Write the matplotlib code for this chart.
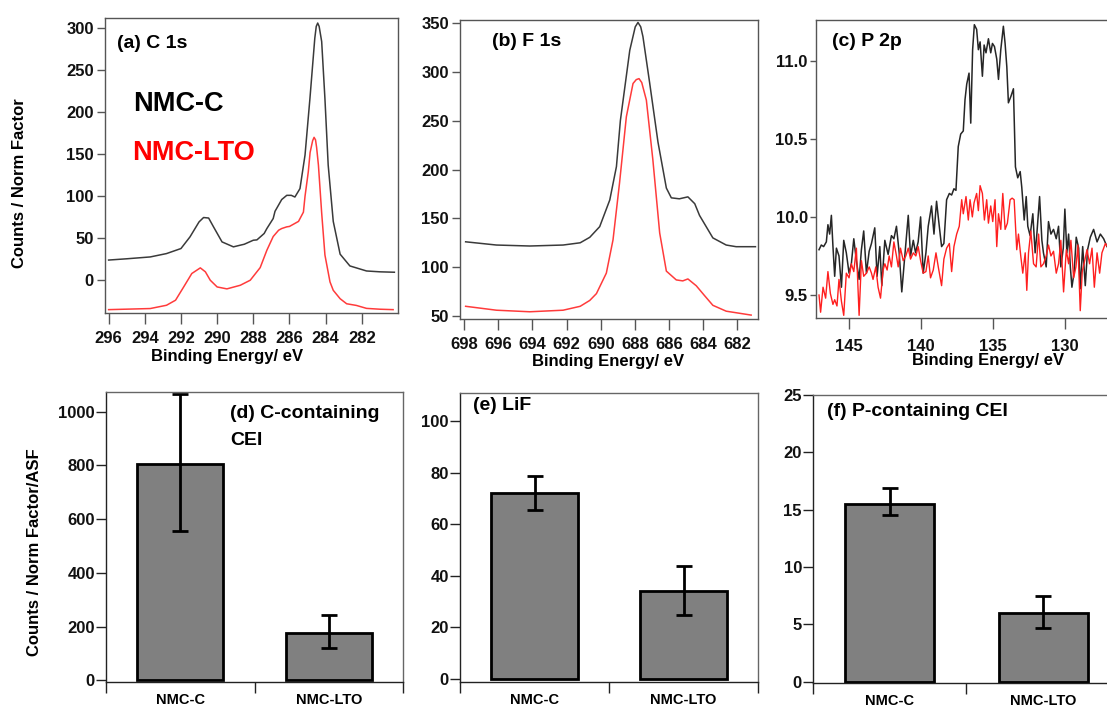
import matplotlib
matplotlib.use("Agg")
import matplotlib.pyplot as plt
import numpy as np

matplotlib.rc('font', family='Liberation Sans', weight='bold')

W, H = 1107, 708

# C 1s spectra (binding energy / eV, counts / norm factor)
c1s_ev_c = [296.0, 295.0, 293.7, 292.8, 292.0, 291.5, 291.0, 290.75, 290.47, 290.2,
            289.73, 289.1, 288.72, 288.5, 288.0, 287.8, 287.4, 287.25, 286.9, 286.8,
            286.43, 286.15, 285.9, 285.7, 285.42, 285.14, 284.87, 284.6, 284.52, 284.44,
            284.36, 284.22, 284.04, 283.86, 283.58, 283.2, 282.66, 281.74, 281.0, 280.2]
c1s_nmc_c = [24, 25.5, 27.7, 31.7, 37.7, 51.6, 69.4, 74.6, 74, 63.5,
             45.6, 39.7, 41.7, 42.8, 47.6, 48, 55.6, 61.5, 73.4, 82,
             96, 101, 101, 99, 109, 149, 216, 288, 302, 306,
             302, 284, 216, 137, 70, 31, 17, 11, 10, 9.5]
c1s_ev_lto = [296.0, 293.7, 292.8, 292.3, 291.85, 291.4, 290.93, 290.65, 290.38, 290.0,
              289.46, 288.72, 288.17, 287.62, 287.25, 286.9, 286.6, 286.43, 286.15, 286.0,
              285.5, 285.23, 285.14, 284.96, 284.86, 284.72, 284.64, 284.56, 284.5, 284.4,
              284.22, 284.04, 283.76, 283.58, 283.2, 282.84, 282.3, 281.74, 281.0, 280.27]
c1s_nmc_lto = [-35, -33.7, -29.8, -23.8, -8, 8, 14.7, 10, 0, -8,
               -10.3, -6, 0, 15, 35.7, 52, 59.5, 61.5, 63.5, 64,
               70, 81, 100, 129, 152, 166, 170, 167, 158, 137,
               80, 30, -2, -12, -22, -28, -30, -33.5, -34.5, -35]

# F 1s spectra
f1s_ev_c = [697.9, 696.1, 694.15, 692.2, 691.2, 690.64, 690.06, 689.47, 689.08, 688.85,
            688.3, 687.98, 687.82, 687.66, 687.53, 687.14, 686.65, 686.16, 685.87, 685.4,
            684.9, 684.5, 684.22, 683.44, 682.66, 682.08, 680.95]
f1s_nmc_c = [126, 122.7, 121.7, 122.7, 125, 130.6, 141.5, 168.8, 203, 250,
             322, 346, 350.5, 346, 336, 289, 228, 181, 171, 170,
             172, 165, 153, 130, 122.7, 121, 121]
f1s_ev_lto = [697.9, 696.1, 694.15, 692.2, 691.2, 690.64, 690.25, 689.67, 689.28, 688.9,
              688.5, 688.11, 687.92, 687.76, 687.6, 687.33, 686.95, 686.55, 686.16, 685.58,
              685.2, 684.9, 684.41, 683.93, 683.44, 682.66, 681.2]
f1s_nmc_lto = [60, 56, 54.4, 56, 60, 66, 73, 94, 128, 186,
               254, 288, 292, 293, 289, 271, 210, 135, 96, 87,
               86, 88, 81, 71, 61, 55, 51]

# P 2p spectra
p2p_ev_c = [147.09, 146.93, 146.77, 146.58, 146.47, 146.35, 146.23, 146.12, 146.00, 145.88,
            145.70, 145.53, 145.37, 145.19, 145.00, 144.84, 144.67, 144.49, 144.30, 144.14,
            143.98, 143.79, 143.60, 143.44, 143.21, 143.05, 142.86, 142.72, 142.51, 142.28,
            142.05, 141.88, 141.70, 141.51, 141.33, 141.12, 140.88, 140.72, 140.53, 140.37,
            140.19, 140.02, 139.84, 139.65, 139.49, 139.26, 139.09, 138.91, 138.72, 138.56,
            138.40, 138.21, 138.02, 137.86, 137.70, 137.56, 137.40, 137.23, 137.05, 136.93,
            136.81, 136.65, 136.53, 136.40, 136.28, 136.12, 136.00, 135.88, 135.72, 135.60,
            135.47, 135.30, 135.14, 135.02, 134.88, 134.72, 134.60, 134.44, 134.26, 134.14,
            134.02, 133.91, 133.74, 133.56, 133.42, 133.26, 133.09, 132.98, 132.81, 132.67,
            132.56, 132.40, 132.21, 132.05, 131.93, 131.74, 131.58, 131.47, 131.28, 131.12,
            130.95, 130.77, 130.58, 130.42, 130.26, 130.09, 129.98, 129.84, 129.72, 129.60,
            129.49, 129.33, 129.19, 129.02, 128.91, 128.74, 128.56, 128.40, 128.21, 127.98,
            127.74, 127.51, 127.28, 127.05]
p2p_nmc_c = [9.79, 9.82, 9.81, 9.84, 9.95, 9.89, 10.01, 9.81, 9.62, 9.80,
             9.75, 9.55, 9.85, 9.77, 9.64, 9.70, 9.86, 9.72, 9.60, 9.79,
             9.91, 9.64, 9.78, 9.83, 9.93, 9.62, 9.81, 9.56, 9.85, 9.76,
             9.88, 9.86, 9.94, 9.77, 9.52, 9.75, 10.01, 9.75, 9.85, 9.77,
             9.84, 10.00, 9.64, 9.77, 9.94, 10.07, 9.89, 10.10, 9.94, 9.81,
             9.83, 10.11, 10.15, 10.14, 10.18, 10.17, 10.45, 10.53, 10.55, 10.75,
             10.85, 10.92, 10.60, 11.07, 11.23, 11.20, 11.07, 11.12, 10.90, 11.10,
             11.05, 11.14, 11.05, 11.11, 11.09, 11.01, 10.88, 11.07, 11.22, 11.11,
             10.96, 10.73, 10.77, 10.82, 10.32, 10.25, 10.29, 10.19, 9.98, 10.13,
             9.94, 9.88, 10.02, 9.77, 9.89, 10.13, 9.85, 9.77, 9.68, 9.97,
             9.89, 9.92, 9.86, 9.94, 9.68, 9.80, 10.05, 9.77, 9.89, 9.68,
             9.55, 9.65, 9.87, 9.80, 9.54, 9.81, 9.56, 9.79, 9.87, 9.92,
             9.84, 9.89, 9.86, 9.81]
p2p_ev_lto = [147.09, 146.98, 146.81, 146.63, 146.47, 146.30, 146.12, 146.00, 145.84, 145.70,
              145.53, 145.37, 145.19, 145.00, 144.84, 144.67, 144.49, 144.30, 144.14, 143.98,
              143.79, 143.60, 143.44, 143.33, 143.14, 142.98, 142.81, 142.63, 142.51, 142.35,
              142.21, 142.05, 141.88, 141.70, 141.58, 141.42, 141.23, 141.05, 140.88, 140.72,
              140.53, 140.35, 140.19, 140.02, 139.84, 139.65, 139.49, 139.33, 139.14, 138.95,
              138.79, 138.56, 138.40, 138.21, 138.02, 137.86, 137.70, 137.51, 137.33, 137.16,
              137.05, 136.86, 136.70, 136.58, 136.42, 136.30, 136.12, 136.00, 135.88, 135.72,
              135.58, 135.42, 135.30, 135.14, 135.00, 134.84, 134.72, 134.60, 134.44, 134.30,
              134.14, 133.98, 133.79, 133.65, 133.51, 133.33, 133.21, 133.05, 132.91, 132.74,
              132.63, 132.51, 132.35, 132.16, 131.98, 131.81, 131.65, 131.47, 131.28, 131.12,
              130.95, 130.77, 130.58, 130.42, 130.26, 130.07, 129.88, 129.72, 129.56, 129.37,
              129.21, 129.07, 128.91, 128.77, 128.60, 128.44, 128.26, 128.09, 127.93, 127.74,
              127.56, 127.40, 127.16, 127.02]
p2p_nmc_lto = [9.50, 9.39, 9.55, 9.48, 9.65, 9.51, 9.44, 9.47, 9.43, 9.60,
               9.46, 9.37, 9.64, 9.61, 9.70, 9.65, 9.80, 9.37, 9.72, 9.62,
               9.64, 9.68, 9.64, 9.60, 9.68, 9.55, 9.48, 9.66, 9.70, 9.66,
               9.75, 9.68, 9.84, 9.75, 9.68, 9.80, 9.72, 9.75, 9.80, 9.73,
               9.77, 9.75, 9.81, 9.72, 9.64, 9.65, 9.75, 9.61, 9.66, 9.77,
               9.68, 9.56, 9.73, 9.80, 9.83, 9.65, 9.81, 9.89, 9.94, 10.11,
               10.02, 10.13, 9.98, 10.11, 10.00, 10.09, 10.15, 10.04, 10.20, 10.15,
               9.98, 10.11, 9.96, 10.07, 9.97, 10.11, 9.81, 10.02, 9.92, 10.15,
               9.92, 9.96, 10.11, 10.12, 10.11, 9.79, 9.89, 9.75, 9.64, 9.77,
               9.53, 9.77, 9.91, 9.70, 9.68, 9.89, 9.68, 9.70, 9.75, 9.82,
               9.75, 9.78, 9.64, 9.70, 9.85, 9.52, 9.79, 9.70, 9.85, 9.61,
               9.68, 9.82, 9.40, 9.65, 9.72, 9.79, 9.70, 9.80, 9.55, 9.77,
               9.64, 9.77, 9.83, 9.81]

# integrated CEI amounts (bar value, lower / upper error)
samples = ['NMC-C', 'NMC-LTO']
c_cei = [805, 176]
c_cei_lo = [251, 54]
c_cei_hi = [261, 66]
lif = [72, 34]
lif_lo = [6.3, 9.3]
lif_hi = [6.6, 9.8]
p_cei = [15.5, 6.0]
p_cei_lo = [1.0, 1.35]
p_cei_hi = [1.4, 1.5]

fig = plt.figure(figsize=(W / 100, H / 100), dpi=100)


def box(l, t, r, b):
    return fig.add_axes([l / W, 1 - b / H, (r - l) / W, (b - t) / H])


def ftext(x, y, s, **kw):
    fig.text(x / W, 1 - y / H, s, **kw)


def style(ax, spine='#555555'):
    for sp in ax.spines.values():
        sp.set_color(spine)
        sp.set_linewidth(1.0)
    ax.tick_params(direction='out', length=6, width=1, color='#555555',
                   labelsize=12, labelcolor='#111111', pad=2)
    ax.tick_params(axis='x', length=8, pad=5)


k_col = '#3a3a3a'
r_col = '#ff3b3b'

# (a) C 1s
ax = box(105, 18, 398, 313)
ax.plot(c1s_ev_c, c1s_nmc_c, color=k_col, lw=1.1)
ax.plot(c1s_ev_lto, c1s_nmc_lto, color=r_col, lw=1.1)
ax.set_xlim(296.2, 280.0)
ax.set_ylim(-39, 312)
ax.set_xticks(np.arange(296, 281, -2))
ax.set_yticks(np.arange(0, 301, 50))
style(ax)

# (b) F 1s
ax = box(460, 20, 758, 319)
ax.plot(f1s_ev_c, f1s_nmc_c, color=k_col, lw=1.1)
ax.plot(f1s_ev_lto, f1s_nmc_lto, color=r_col, lw=1.1)
ax.set_xlim(698.23, 680.8)
ax.set_ylim(47, 353)
ax.set_xticks(np.arange(698, 681, -2))
ax.set_yticks(np.arange(50, 351, 50))
style(ax)

# (c) P 2p
ax = box(816, 20, 1112, 318)
ax.plot(p2p_ev_c, p2p_nmc_c, color='#262626', lw=1.1)
ax.plot(p2p_ev_lto, p2p_nmc_lto, color='#ff1f1f', lw=1.0)
ax.set_xlim(147.3, 126.7)
ax.set_ylim(9.353, 11.26)
ax.set_xticks([145, 140, 135, 130])
ax.set_yticks([9.5, 10.0, 10.5, 11.0])
ax.yaxis.set_major_formatter(matplotlib.ticker.FormatStrFormatter('%.1f'))
style(ax)
ax.tick_params(axis='y', length=4)
ax.tick_params(axis='x', pad=7)

# axis labels and annotations, top row
ftext(20, 183, 'Counts / Norm Factor', rotation=90, ha='center', va='center', fontsize=12)
ftext(227, 357, 'Binding Energy/ eV', ha='center', va='center', fontsize=12)
ftext(608, 361, 'Binding Energy/ eV', ha='center', va='center', fontsize=12)
ftext(988, 360, 'Binding Energy/ eV', ha='center', va='center', fontsize=12)
ftext(117, 44, '(a) C 1s', ha='left', va='center', fontsize=14)
ftext(133, 104, 'NMC-C', ha='left', va='center', fontsize=19.5, color='black')
ftext(132, 153, 'NMC-LTO', ha='left', va='center', fontsize=19.5, color='#ff0000')
ftext(492, 42, '(b) F 1s', ha='left', va='center', fontsize=14)
ftext(832, 41, '(c) P 2p', ha='left', va='center', fontsize=14)


def bars(ax, vals, lo, hi, ylim, yticks):
    ax.bar([0.5, 1.5], vals, width=0.58, color='#808080', edgecolor='black', linewidth=2,
           yerr=[lo, hi], error_kw=dict(ecolor='black', elinewidth=2, capsize=6, capthick=2))
    ax.set_xlim(0, 2)
    ax.set_ylim(*ylim)
    ax.set_yticks(yticks)
    ax.set_xticks([0, 1, 2])
    ax.set_xticklabels([])
    ax.set_xticks([0.5, 1.5], minor=True)
    ax.set_xticklabels(samples, minor=True)
    style(ax, spine='#666666')
    ax.spines['left'].set_color('#222222')
    ax.spines['bottom'].set_color('#222222')
    ax.tick_params(axis='x', which='major', length=8, color='#222222')
    ax.tick_params(axis='y', length=7, color='#222222', pad=1)
    ax.tick_params(axis='x', which='minor', length=0, labelsize=10.5, pad=8)


ax = box(106, 392, 403, 682)
bars(ax, c_cei, c_cei_lo, c_cei_hi, (-6, 1073), np.arange(0, 1001, 200))
ax = box(460, 393, 758, 682)
bars(ax, lif, lif_lo, lif_hi, (-1.2, 111), np.arange(0, 101, 20))
ax = box(813, 395, 1120, 683)
bars(ax, p_cei, p_cei_lo, p_cei_hi, (-0.11, 25), np.arange(0, 26, 5))

ftext(35, 552, 'Counts / Norm Factor/ASF', rotation=90, ha='center', va='center', fontsize=12)
ftext(230, 414, '(d) C-containing', ha='left', va='center', fontsize=14)
ftext(230, 440, 'CEI', ha='left', va='center', fontsize=14)
ftext(473, 405, '(e) LiF', ha='left', va='center', fontsize=14)
ftext(827, 412, '(f) P-containing CEI', ha='left', va='center', fontsize=14)

fig.savefig('out.png', dpi=100)
